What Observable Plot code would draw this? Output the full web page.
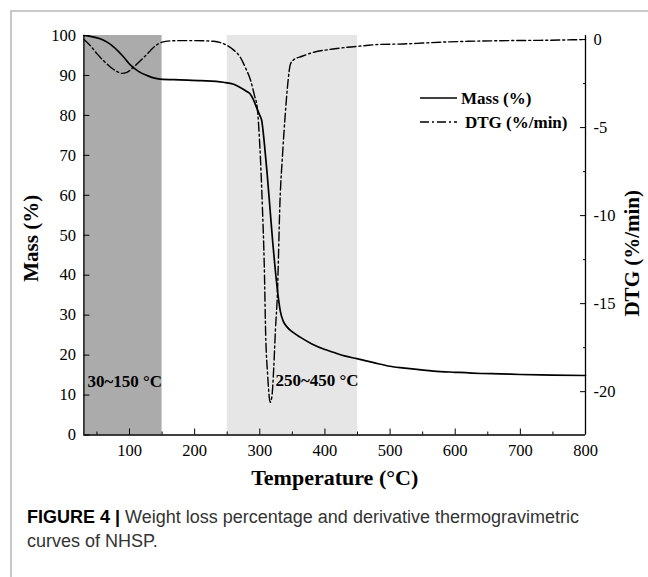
<!DOCTYPE html>
<html>
<head>
<meta charset="utf-8">
<script src="https://cdn.jsdelivr.net/npm/d3@7"></script>
<script src="https://cdn.jsdelivr.net/npm/@observablehq/plot@0.6"></script>
<style>
  html, body { margin: 0; padding: 0; background: #fff; }
  #wrap { position: relative; width: 648px; height: 577px; overflow: hidden; background: #fff; }
  #border { position: absolute; left: 10px; top: 10px; width: 800px; height: 800px; border: 2px solid #c9c9c9; box-sizing: border-box; }
  #chart { position: absolute; left: 0; top: 0; }
  #chart svg, #chart svg text { font-family: 'Liberation Serif', 'Times New Roman', serif; }
  #legend { position: absolute; left: 0; top: 0; }
  #caption { position: absolute; left: 27px; top: 505px; font-family: "Liberation Sans", Arial, sans-serif; font-size: 18px; line-height: 24px; color: #333; white-space: nowrap; }
  #caption b { color: #000; }
</style>
</head>
<body>
<div id="wrap">
  <div id="border"></div>
  <div id="chart"></div>
  <svg id="legend" width="648" height="200"></svg>
  <div id="caption"><b>FIGURE 4 |</b> Weight loss percentage and derivative thermogravimetric<br>curves of NHSP.</div>
</div>
<script>
// ---- data ----
const massTemp = [30, 40, 55, 65, 76, 90, 102, 115, 127, 137, 147, 177, 210, 244, 260, 270, 280, 285, 290, 295, 300, 303, 307, 311, 316, 320, 324, 328, 331.5, 336, 342, 350, 362, 380, 400, 413, 430, 449, 475, 500, 530, 567, 600, 640, 669, 700, 750, 800];
const massValue = [100, 99.8, 99.2, 98.4, 97.1, 94.8, 92.5, 90.9, 90, 89.4, 89.1, 88.9, 88.7, 88.3, 87.8, 87.0, 86.0, 85.4, 84.0, 82.0, 80.0, 78.7, 73, 66, 56, 48, 41, 35, 31, 28.5, 27, 25.8, 24.5, 22.8, 21.4, 20.7, 19.8, 19.1, 18.1, 17.2, 16.6, 16.0, 15.7, 15.4, 15.3, 15.15, 15.0, 14.9];

const dtgTemp = [30, 40, 50, 60, 71, 80, 88, 96, 105, 117, 125, 132, 140, 150, 165, 178, 200, 229, 240, 250, 260, 270, 278, 286, 292, 296, 300, 304, 307, 309, 312, 316, 318.5, 321.5, 324, 327, 331, 335, 339, 343, 347, 352, 365, 383, 410, 434, 460, 482, 520, 550, 577, 620, 680, 740, 800];
const dtgValue = [0, -0.35, -0.8, -1.2, -1.57, -1.8, -1.92, -1.86, -1.6, -1.19, -0.9, -0.63, -0.35, -0.15, -0.07, -0.06, -0.06, -0.1, -0.18, -0.34, -0.6, -1.0, -1.6, -2.33, -3.2, -3.85, -6, -9.5, -13, -16.7, -19, -20.6, -20.3, -18.6, -16.5, -14.5, -9.2, -6.5, -4.3, -2.5, -1.4, -1.15, -0.95, -0.72, -0.55, -0.44, -0.35, -0.28, -0.25, -0.2, -0.15, -0.1, -0.06, -0.04, 0];

const regionStart = [30, 250];
const regionEnd = [150, 450];
const regionLabel = ["30~150 °C", "250~450 °C"];
const regionLabelX = [35.5, 324];
const regionLabelY = [13.5, 13.7];

const xTicks = [100, 200, 300, 400, 500, 600, 700, 800];
const xMinorTicks = [50, 150, 250, 350, 450, 550, 650, 750];
const massTicks = [0, 10, 20, 30, 40, 50, 60, 70, 80, 90, 100];
const dtgTicks = [0, -5, -10, -15, -20];
const dtgMinorTicks = [-2.5, -7.5, -12.5, -17.5, -22.5];

// ---- style ----
const regionFill = ["#ababab", "#e6e6e6"];
const serif = "'Liberation Serif', 'Times New Roman', serif";

// right-axis mapping onto the left (mass) scale
const dMin = -22.46, dMax = 0.23;
const toM = v => (v - dMin) / (dMax - dMin) * 100;
const fromM = m => m / 100 * (dMax - dMin) + dMin;

const massData = massTemp.map((t, i) => ({t, v: massValue[i]}));
const dtgData = dtgTemp.map((t, i) => ({t, m: toM(dtgValue[i])}));
const regions = regionStart.map((s, i) => ({s, e: regionEnd[i], fill: regionFill[i]}));
const labels = regionLabel.map((txt, i) => ({txt, x: regionLabelX[i], y: regionLabelY[i]}));

const H = 500;
const chart = Plot.plot({
  width: 648,
  height: H,
  marginLeft: 83.4,
  marginRight: 63,
  marginTop: 35,
  marginBottom: H - 434.5,
  style: {fontFamily: serif, fontSize: "16.5px", color: "#000", background: "transparent", overflow: "visible"},
  x: {domain: [30, 800]},
  y: {domain: [0, 100]},
  marks: [
    Plot.rect(regions, {x1: "s", x2: "e", y1: 0, y2: 100, fill: d => d.fill}),
    // axis lines
    Plot.ruleX([30, 800], {y1: 0, y2: 100, stroke: "#000", strokeWidth: 1.3}),
    Plot.ruleY([0], {x1: 30, x2: 800, stroke: "#000", strokeWidth: 1.3}),
    // bottom axis
    Plot.axisX({ticks: xTicks, tickSize: 6, dy: -6, tickFormat: () => "", label: null, strokeWidth: 1}),
    Plot.axisX({ticks: xMinorTicks, tickSize: 3, dy: -3, tickFormat: () => "", label: null, strokeWidth: 1}),
    Plot.axisX({ticks: xTicks, tickSize: 0, tickPadding: 9, label: null, fontSize: 16.5}),
    // left axis
    Plot.axisY({anchor: "left", ticks: massTicks, tickSize: 6, dx: 6, tickFormat: () => "", label: null, strokeWidth: 1}),
    Plot.axisY({anchor: "left", ticks: massTicks, tickSize: 0, tickPadding: 8, label: null, fontSize: 16.5}),
    // right axis (DTG)
    Plot.axisY({anchor: "right", ticks: dtgTicks.map(toM), tickSize: 6, dx: -6, tickFormat: () => "", label: null, strokeWidth: 1}),
    Plot.axisY({anchor: "right", ticks: dtgMinorTicks.map(toM).filter(m => m >= 0), tickSize: 3, dx: -3, tickFormat: () => "", label: null, strokeWidth: 1}),
    Plot.axisY({anchor: "right", ticks: dtgTicks.map(toM), tickSize: 0, tickPadding: 8, label: null, fontSize: 16.5,
      tickFormat: m => String(Math.round(fromM(m)))}),
    // curves
    Plot.line(dtgData, {x: "t", y: "m", curve: "monotone-x", stroke: "#000", strokeWidth: 1.4, strokeDasharray: "9,3,2,3"}),
    Plot.line(massData, {x: "t", y: "v", curve: "monotone-x", stroke: "#000", strokeWidth: 1.7}),
    // region labels
    Plot.text(labels, {x: "x", y: "y", text: "txt", textAnchor: "start", fontWeight: "bold", fontSize: 17, fill: "#000"}),
    // axis titles
    Plot.text(["Temperature (°C)"], {text: d => d, frameAnchor: "bottom", textAnchor: "middle", lineAnchor: "middle", dy: 43, fontWeight: "bold", fontSize: 22, fill: "#000"}),
    Plot.text(["Mass (%)"], {text: d => d, frameAnchor: "left", textAnchor: "middle", lineAnchor: "middle", rotate: -90, dx: -53, dy: 3, fontWeight: "bold", fontSize: 21, fill: "#000"}),
    Plot.text(["DTG (%/min)"], {text: d => d, frameAnchor: "right", textAnchor: "middle", lineAnchor: "middle", rotate: -90, dx: 47, dy: 18, fontWeight: "bold", fontSize: 21, fill: "#000"})
  ]
});
d3.select(chart).selectAll("text").style("font-family", serif);
document.getElementById("chart").appendChild(chart);

// legend
const lg = d3.select("#legend");
const legendItems = [
  {label: "Mass (%)", dash: null, w: 1.7, tx: 461},
  {label: "DTG (%/min)", dash: "9,3,2,3", w: 1.4, tx: 465}
];
legendItems.forEach((d, i) => {
  const y = 98 + i * 24;
  lg.append("line").attr("x1", 420).attr("x2", 457).attr("y1", y).attr("y2", y)
    .attr("stroke", "#000").attr("stroke-width", d.w).attr("stroke-dasharray", d.dash);
  lg.append("text").attr("x", d.tx).attr("y", y).attr("dy", "0.35em")
    .attr("font-family", serif).attr("font-weight", "bold").attr("font-size", 17).text(d.label);
});
</script>
</body>
</html>
